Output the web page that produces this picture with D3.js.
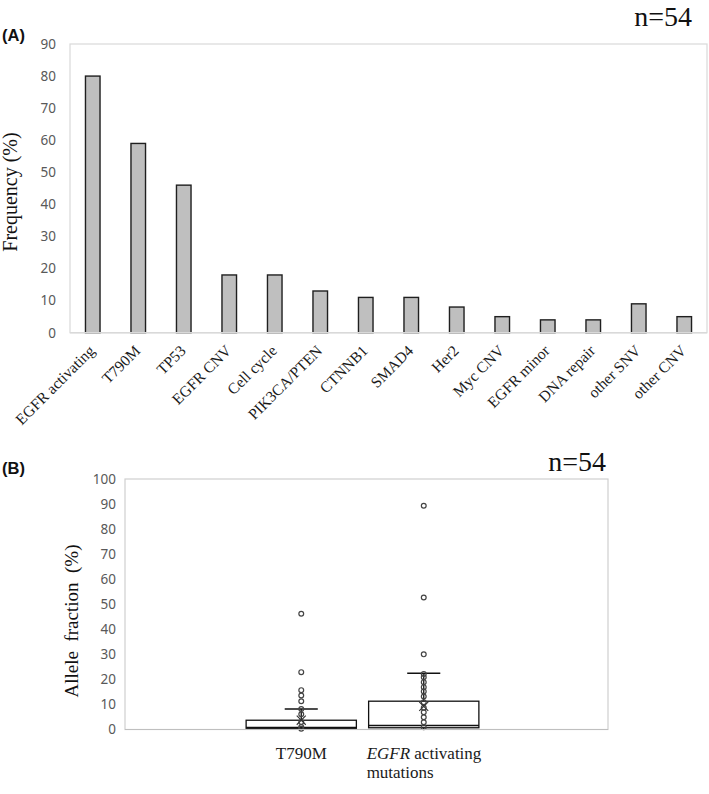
<!DOCTYPE html>
<html><head><meta charset="utf-8">
<script src="https://cdn.jsdelivr.net/npm/d3@7"></script>
<style>body{margin:0;background:#fff}svg{display:block}</style>
</head><body>
<script>
// ---------- Panel A data ----------
const categoriesA = ["EGFR activating","T790M","TP53","EGFR CNV","Cell cycle","PIK3CA/PTEN","CTNNB1","SMAD4","Her2","Myc CNV","EGFR minor","DNA repair","other SNV","other CNV"];
const frequencyA = [80,59,46,18,18,13,11,11,8,5,4,4,9,5];
const ticksA = [0,10,20,30,40,50,60,70,80,90];

// ---------- Panel B data ----------
const categoriesB = ["T790M","EGFR activating mutations"];
const q1B = [0.5, 0.7];
const medianB = [0.8, 1.6];
const q3B = [3.7, 11.3];
const whiskerLowB = [0, 0];
const whiskerHighB = [8.2, 22.5];
const meanB = [3.7, 9.2];
const pointsT790M = [46.2, 22.9, 15.7, 13.6, 11.3, 8.2, 6.1, 3.0, 1.0, 0.3];
const pointsEGFR = [89.3, 52.7, 30.0, 22.2, 20.9, 18.9, 16.9, 15.2, 13.2, 10.9, 8.7, 6.9, 4.9, 2.9, 0.9];
const pointsB = [pointsT790M, pointsEGFR];
const ticksB = [0,10,20,30,40,50,60,70,80,90,100];

const W = 709, H = 794;
const svg = d3.select("body").append("svg").attr("width", W).attr("height", H);
const serif = "'Liberation Serif','Times New Roman',serif";
const sans = "'Noto Sans','Open Sans',sans-serif";
const tickColor = "#595959";
const frameColor = "#d9d9d9";

// ================= Panel A =================
const A = {left:70, right:707, top:44, bottom:332.7};
const xA = d3.scaleBand().domain(categoriesA).range([A.left, A.right]).paddingInner(0.68).paddingOuter(0.34);
const yA = d3.scaleLinear().domain([0,90]).range([A.bottom, A.top]);

const gA = svg.append("g");
gA.append("rect").attr("x", A.left).attr("y", A.top).attr("width", A.right-A.left).attr("height", A.bottom-A.top)
  .attr("fill","none").attr("stroke", frameColor).attr("stroke-width",1.2);

const yAxisA = gA.append("g").attr("transform",`translate(${A.left},0)`)
  .call(d3.axisLeft(yA).tickValues(ticksA).tickSize(0).tickPadding(14));
yAxisA.select(".domain").remove();
yAxisA.selectAll("text").attr("font-family", sans).attr("font-size", 13.5).attr("fill", tickColor);

gA.selectAll("rect.bar").data(frequencyA).join("rect").attr("class","bar")
  .attr("x",(d,i)=>xA(categoriesA[i])).attr("width", xA.bandwidth())
  .attr("y", d=>yA(d)).attr("height", d=>yA(0)-yA(d))
  .attr("fill","#bfbfbf").attr("stroke","#1f1f1f").attr("stroke-width",1.4);

gA.append("line").attr("x1",A.left).attr("x2",A.right).attr("y1",A.bottom).attr("y2",A.bottom)
  .attr("stroke",frameColor).attr("stroke-width",1.5);

const xAxisA = gA.append("g").attr("transform",`translate(0,${A.bottom})`)
  .call(d3.axisBottom(xA).tickSize(0).tickPadding(0));
xAxisA.select(".domain").remove();
xAxisA.selectAll("text")
  .attr("font-family", serif).attr("font-size", 15.5).attr("fill","#1a1a1a")
  .attr("text-anchor","end").attr("dy",0)
  .attr("transform","translate(3,19) rotate(-45)");

gA.append("text").attr("transform",`translate(17,192) rotate(-90)`).attr("text-anchor","middle")
  .attr("font-family", serif).attr("font-size", 20).attr("fill","#111").text("Frequency (%)");
gA.append("text").attr("x",692).attr("y",26).attr("text-anchor","end")
  .attr("font-family", serif).attr("font-size", 28).attr("fill","#111").text("n=54");
gA.append("text").attr("x",2).attr("y",41)
  .attr("font-family","'Liberation Sans',Arial,sans-serif").attr("font-weight","bold").attr("font-size",16.5).attr("fill","#111").text("(A)");

// ================= Panel B =================
const B = {left:125, right:608, top:479, bottom:729.5};
const xB = d3.scaleBand().domain(categoriesB).range([240, 485]).paddingInner(0.1).paddingOuter(0.05);
const yB = d3.scaleLinear().domain([0,100]).range([B.bottom, B.top]);

const gB = svg.append("g");
gB.append("rect").attr("x",B.left).attr("y",B.top).attr("width",B.right-B.left).attr("height",B.bottom-B.top)
  .attr("fill","none").attr("stroke","#cfcfcf").attr("stroke-width",1.2);

const yAxisB = gB.append("g").attr("transform",`translate(${B.left},0)`)
  .call(d3.axisLeft(yB).tickValues(ticksB).tickSize(0).tickPadding(9));
yAxisB.select(".domain").remove();
yAxisB.selectAll("text").attr("font-family", sans).attr("font-size", 13.5).attr("fill", tickColor);

const boxes = gB.selectAll("g.box").data(categoriesB).join("g").attr("class","box");
boxes.each(function(cat,i){
  const g = d3.select(this);
  const x0 = xB(cat), bw = xB.bandwidth(), cx = x0 + bw/2;
  const capW = bw*0.3;
  g.append("line").attr("x1",cx).attr("x2",cx).attr("y1",yB(q3B[i])).attr("y2",yB(whiskerHighB[i]))
    .attr("stroke","#111").attr("stroke-width",1.3);
  g.append("line").attr("x1",cx).attr("x2",cx).attr("y1",yB(q1B[i])).attr("y2",yB(whiskerLowB[i]))
    .attr("stroke","#111").attr("stroke-width",1.3);
  g.append("line").attr("x1",cx-capW/2).attr("x2",cx+capW/2).attr("y1",yB(whiskerHighB[i])).attr("y2",yB(whiskerHighB[i]))
    .attr("stroke","#111").attr("stroke-width",1.5);
  g.append("rect").attr("x",x0).attr("width",bw).attr("y",yB(q3B[i])).attr("height",yB(q1B[i])-yB(q3B[i]))
    .attr("fill","#fff").attr("stroke","#111").attr("stroke-width",1.3);
  g.append("line").attr("x1",x0).attr("x2",x0+bw).attr("y1",yB(medianB[i])).attr("y2",yB(medianB[i]))
    .attr("stroke","#111").attr("stroke-width",1.3);
  g.selectAll("circle").data(pointsB[i]).join("circle")
    .attr("cx",cx).attr("cy",d=>yB(d)).attr("r",2.4)
    .attr("fill","none").attr("stroke","#444").attr("stroke-width",1.2);
  g.append("path").attr("d", d3.symbol(d3.symbolX, 55)())
    .attr("transform",`translate(${cx},${yB(meanB[i])})`)
    .attr("fill","none").attr("stroke","#333").attr("stroke-width",1.1);
});

gB.append("line").attr("x1",B.left).attr("x2",B.right).attr("y1",B.bottom).attr("y2",B.bottom)
  .attr("stroke","#bfbfbf").attr("stroke-width",1.2);

gB.append("text").attr("x", xB(categoriesB[0]) + xB.bandwidth()/2).attr("y",759)
  .attr("text-anchor","middle").attr("font-family",serif).attr("font-size",17).attr("fill","#1a1a1a").text(categoriesB[0]);
const lx = xB(categoriesB[1]) - 2;
const lab2 = gB.append("text").attr("x", lx).attr("y",759)
  .attr("font-family",serif).attr("font-size",17).attr("fill","#1a1a1a");
const words = categoriesB[1].split(" ");
lab2.append("tspan").attr("font-style","italic").text(words[0]);
lab2.append("tspan").text(" " + words[1]);
gB.append("text").attr("x", lx).attr("y",778)
  .attr("font-family",serif).attr("font-size",17).attr("fill","#1a1a1a").text(words[2]);

gB.append("text").attr("transform",`translate(78,621) rotate(-90)`).attr("text-anchor","middle")
  .attr("font-family", serif).attr("font-size", 19).attr("fill","#111")
  .style("white-space","pre").text("Allele  fraction  (%)");
gB.append("text").attr("x",606).attr("y",471).attr("text-anchor","end")
  .attr("font-family", serif).attr("font-size", 28).attr("fill","#111").text("n=54");
gB.append("text").attr("x",2).attr("y",474)
  .attr("font-family","'Liberation Sans',Arial,sans-serif").attr("font-weight","bold").attr("font-size",16.5).attr("fill","#111").text("(B)");
</script>
</body></html>
